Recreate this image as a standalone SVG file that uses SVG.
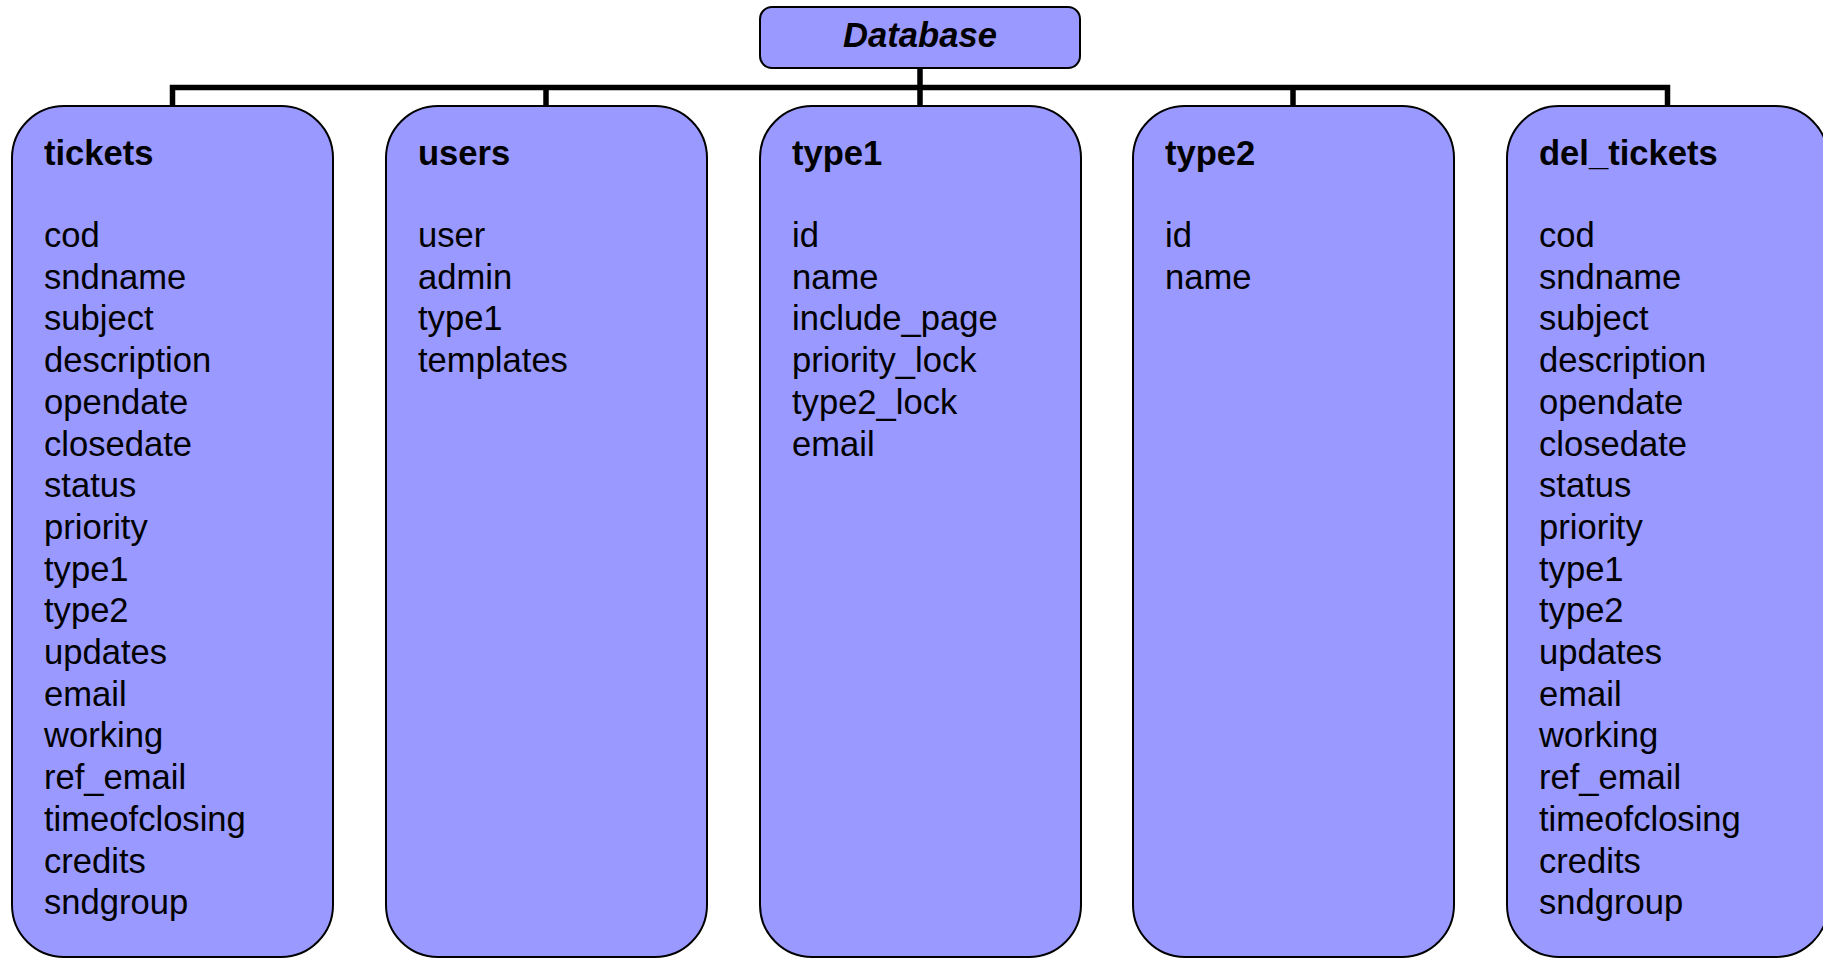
<svg xmlns="http://www.w3.org/2000/svg" width="1823" height="958" viewBox="0 0 1823 958">
<style>
.box{fill:#9999FF;stroke:#000;stroke-width:2}
.t{font-family:"Liberation Sans",Arial,sans-serif;font-size:34.6px;fill:#000}
.h{font-weight:bold}
.conn{stroke:#000;stroke-width:5.5;fill:none}
</style>
<rect width="1823" height="958" fill="#fff"/>
<g id="connectors">
<line class="conn" x1="920" y1="68" x2="920" y2="87.5"/>
<polyline class="conn" points="172.5,106 172.5,87.5 1667.5,87.5 1667.5,106"/>
<line class="conn" x1="546" y1="87.5" x2="546" y2="106"/>
<line class="conn" x1="920" y1="87.5" x2="920" y2="106"/>
<line class="conn" x1="1293" y1="87.5" x2="1293" y2="106"/>
</g>
<g id="database">
<rect class="box" x="760" y="7" width="320" height="61" rx="12"/>
<text class="t h" x="920" y="47" text-anchor="middle" font-style="italic">Database</text>
</g>
<g id="tickets">
<rect class="box" x="12" y="106" width="321" height="851" rx="52"/>
<text class="t h" x="44" y="165">tickets</text>
<text class="t" x="44" y="247"><tspan x="44">cod</tspan><tspan x="44" dy="41.7">sndname</tspan><tspan x="44" dy="41.7">subject</tspan><tspan x="44" dy="41.7">description</tspan><tspan x="44" dy="41.7">opendate</tspan><tspan x="44" dy="41.7">closedate</tspan><tspan x="44" dy="41.7">status</tspan><tspan x="44" dy="41.7">priority</tspan><tspan x="44" dy="41.7">type1</tspan><tspan x="44" dy="41.7">type2</tspan><tspan x="44" dy="41.7">updates</tspan><tspan x="44" dy="41.7">email</tspan><tspan x="44" dy="41.7">working</tspan><tspan x="44" dy="41.7">ref_email</tspan><tspan x="44" dy="41.7">timeofclosing</tspan><tspan x="44" dy="41.7">credits</tspan><tspan x="44" dy="41.7">sndgroup</tspan></text>
</g>
<g id="users">
<rect class="box" x="386" y="106" width="321" height="851" rx="52"/>
<text class="t h" x="418" y="165">users</text>
<text class="t" x="418" y="247"><tspan x="418">user</tspan><tspan x="418" dy="41.7">admin</tspan><tspan x="418" dy="41.7">type1</tspan><tspan x="418" dy="41.7">templates</tspan></text>
</g>
<g id="type1">
<rect class="box" x="760" y="106" width="321" height="851" rx="52"/>
<text class="t h" x="792" y="165">type1</text>
<text class="t" x="792" y="247"><tspan x="792">id</tspan><tspan x="792" dy="41.7">name</tspan><tspan x="792" dy="41.7">include_page</tspan><tspan x="792" dy="41.7">priority_lock</tspan><tspan x="792" dy="41.7">type2_lock</tspan><tspan x="792" dy="41.7">email</tspan></text>
</g>
<g id="type2">
<rect class="box" x="1133" y="106" width="321" height="851" rx="52"/>
<text class="t h" x="1165" y="165">type2</text>
<text class="t" x="1165" y="247"><tspan x="1165">id</tspan><tspan x="1165" dy="41.7">name</tspan></text>
</g>
<g id="del_tickets">
<rect class="box" x="1507" y="106" width="321" height="851" rx="52"/>
<text class="t h" x="1539" y="165">del_tickets</text>
<text class="t" x="1539" y="247"><tspan x="1539">cod</tspan><tspan x="1539" dy="41.7">sndname</tspan><tspan x="1539" dy="41.7">subject</tspan><tspan x="1539" dy="41.7">description</tspan><tspan x="1539" dy="41.7">opendate</tspan><tspan x="1539" dy="41.7">closedate</tspan><tspan x="1539" dy="41.7">status</tspan><tspan x="1539" dy="41.7">priority</tspan><tspan x="1539" dy="41.7">type1</tspan><tspan x="1539" dy="41.7">type2</tspan><tspan x="1539" dy="41.7">updates</tspan><tspan x="1539" dy="41.7">email</tspan><tspan x="1539" dy="41.7">working</tspan><tspan x="1539" dy="41.7">ref_email</tspan><tspan x="1539" dy="41.7">timeofclosing</tspan><tspan x="1539" dy="41.7">credits</tspan><tspan x="1539" dy="41.7">sndgroup</tspan></text>
</g>
</svg>
